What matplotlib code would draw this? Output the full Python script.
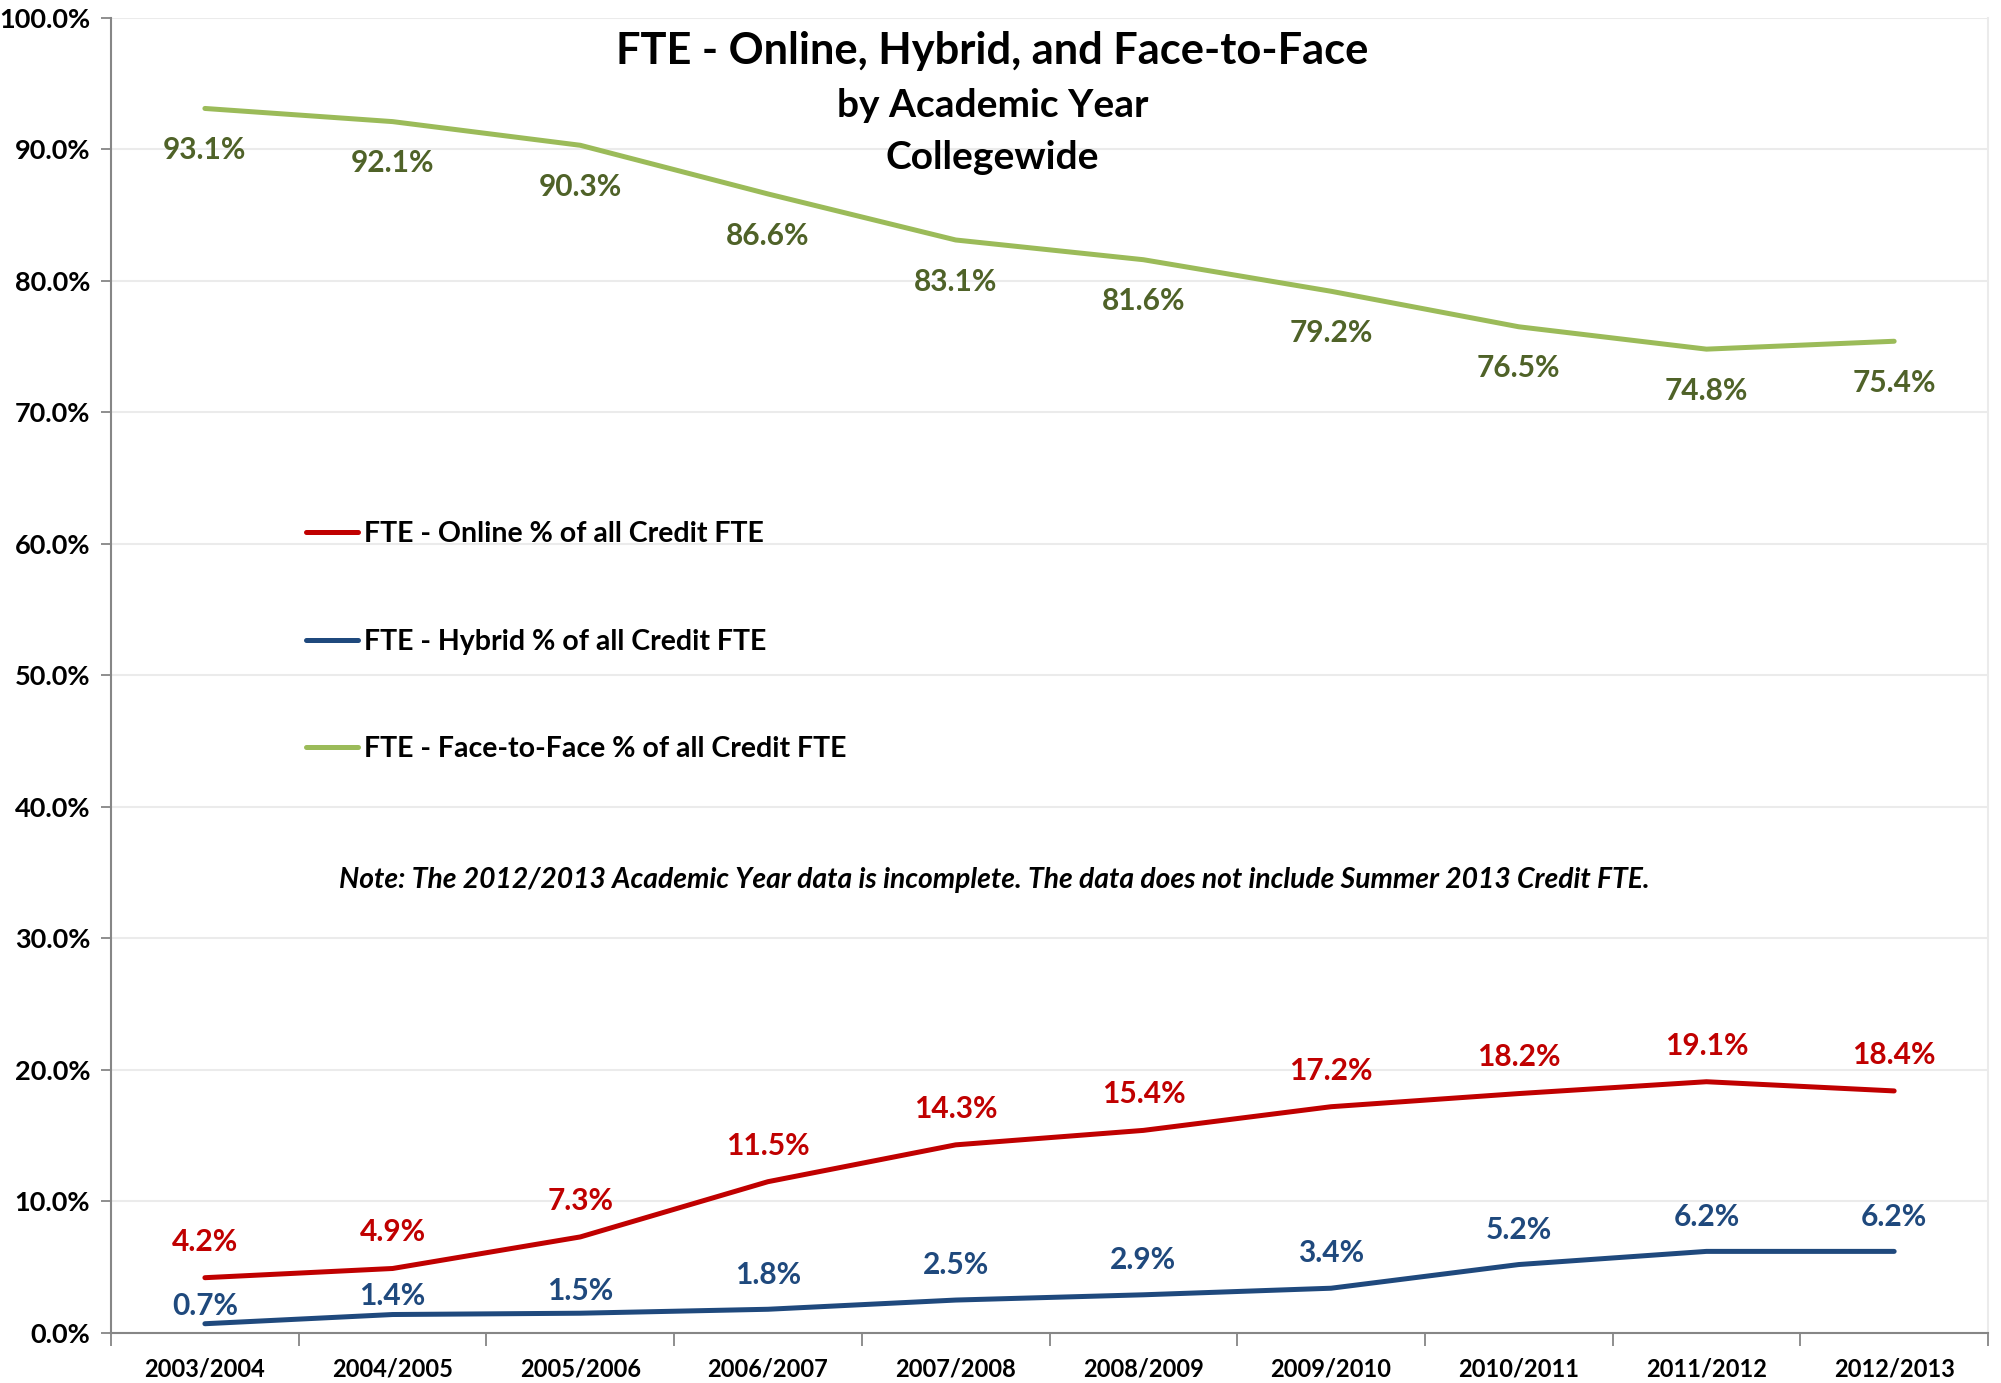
import matplotlib.pyplot as plt
import numpy as np
from matplotlib.ticker import FuncFormatter

plt.rcParams['font.family'] = ['Lato', 'DejaVu Sans']

years = ["2003/2004", "2004/2005", "2005/2006", "2006/2007", "2007/2008",
         "2008/2009", "2009/2010", "2010/2011", "2011/2012", "2012/2013"]
online = [4.2, 4.9, 7.3, 11.5, 14.3, 15.4, 17.2, 18.2, 19.1, 18.4]
hybrid = [0.7, 1.4, 1.5, 1.8, 2.5, 2.9, 3.4, 5.2, 6.2, 6.2]
face = [93.1, 92.1, 90.3, 86.6, 83.1, 81.6, 79.2, 76.5, 74.8, 75.4]

red = "#C00000"
blue = "#1F497D"
green = "#9BBB59"
green_lbl = "#4F6228"

fig = plt.figure(figsize=(20.01, 13.83), dpi=100)
ax = fig.add_axes([0.0555, 0.0362, 0.938, 0.951])

x = np.arange(len(years))
ax.plot(x, online, color=red, lw=3.6, solid_capstyle="round",
        label="FTE - Online % of all Credit FTE", zorder=3)
ax.plot(x, hybrid, color=blue, lw=3.6, solid_capstyle="round",
        label="FTE - Hybrid % of all Credit FTE", zorder=3)
ax.plot(x, face, color=green, lw=3.6, solid_capstyle="round",
        label="FTE - Face-to-Face % of all Credit FTE", zorder=3)

lbl_font = dict(fontsize=21.5, fontweight="bold", ha="center", va="center")
for i in x:
    ax.annotate(f"{online[i]:.1f}%", (i, online[i]), xytext=(0, 26),
                textcoords="offset points", color=red, **lbl_font)
    ax.annotate(f"{face[i]:.1f}%", (i, face[i]), xytext=(0, -30),
                textcoords="offset points", color=green_lbl, **lbl_font)
# hybrid labels sit lower at the start (as in the original)
hyb_off = [13, 13, 16, 24.5, 25, 25, 25, 25, 25, 25]
for i in x:
    ax.annotate(f"{hybrid[i]:.1f}%", (i, hybrid[i]), xytext=(0, hyb_off[i]),
                textcoords="offset points", color=blue, **lbl_font)

ax.set_xlim(-0.5, len(years) - 0.5)
ax.set_ylim(0, 100)
ax.set_yticks(np.arange(0, 101, 10))
ax.yaxis.set_major_formatter(FuncFormatter(lambda v, p: f"{v:.1f}%"))
ax.set_xticks(x)
ax.set_xticklabels(years)
ax.set_xticks(np.arange(-0.5, len(years)), minor=True)
ax.tick_params(axis="x", which="major", length=0, pad=17.5, labelsize=17)
ax.tick_params(axis="x", which="minor", length=9, width=1.3, color="#868686", direction="out")
ax.tick_params(axis="y", length=7, width=1.3, color="#868686", pad=8, labelsize=19.5)
for lab in ax.get_xticklabels() + ax.get_yticklabels():
    lab.set_fontweight("bold")

ax.grid(axis="y", color="#EBEBEB", lw=1.5, zorder=0)
ax.set_axisbelow(True)
ax.spines["top"].set_visible(False)
ax.spines["right"].set_color("#EBEBEB")
ax.spines["right"].set_linewidth(1.5)
for s in ["left", "bottom"]:
    ax.spines[s].set_color("#868686")
    ax.spines[s].set_linewidth(1.5)

fig.text(0.496, 0.963, "FTE - Online, Hybrid, and Face-to-Face", ha="center", va="center",
         fontsize=31.2, fontweight="bold")
fig.text(0.496, 0.924, "by Academic Year", ha="center", va="center",
         fontsize=28, fontweight="bold")
fig.text(0.496, 0.886, "Collegewide", ha="center", va="center",
         fontsize=28, fontweight="bold")

fig.text(0.497, 0.364,
         "Note: The 2012/2013 Academic Year data is incomplete. The data does not include Summer 2013 Credit FTE.",
         ha="center", va="center", fontsize=20.3, fontweight="bold", fontstyle="italic")

leg = ax.legend(loc="upper left", bbox_to_anchor=(0.104, 0.617), frameon=False,
                prop=dict(size=20.5, weight="bold"), handlelength=1.83, handletextpad=0.2,
                labelspacing=2.86, borderaxespad=0, borderpad=0)

fig.savefig("out.png", dpi=100)
